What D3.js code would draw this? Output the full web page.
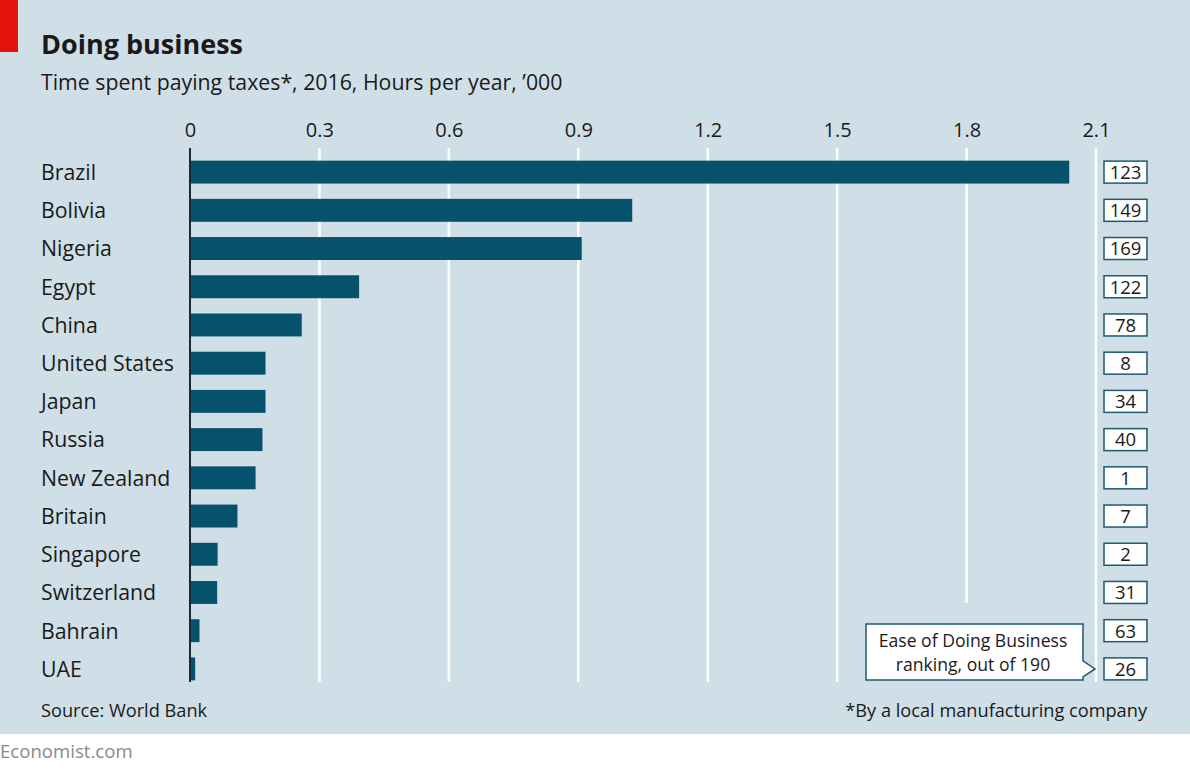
<!DOCTYPE html>
<html><head><meta charset="utf-8">
<script src="https://cdn.jsdelivr.net/npm/d3@7"></script>
<style>body{margin:0;background:#fff;} svg{display:block;}</style>
</head><body>
<script>
const countries = ["Brazil","Bolivia","Nigeria","Egypt","China","United States","Japan","Russia","New Zealand","Britain","Singapore","Switzerland","Bahrain","UAE"];
const hoursThousands = [2.038,1.025,0.908,0.392,0.259,0.175,0.175,0.168,0.152,0.110,0.064,0.063,0.022,0.012];
const ranks = [123,149,169,122,78,8,34,40,1,7,2,31,63,26];
const ticks = [0,0.3,0.6,0.9,1.2,1.5,1.8,2.1];
const tickLabels = ["0","0.3","0.6","0.9","1.2","1.5","1.8","2.1"];

const W=1190,H=772;
const font = "'Open Sans', sans-serif";
const svg = d3.select("body").append("svg").attr("width",W).attr("height",H);
svg.append("rect").attr("width",W).attr("height",734).attr("fill","#d0dfe7");
svg.append("rect").attr("x",0).attr("y",0).attr("width",18).attr("height",52).attr("fill","#e3120b");

svg.append("text").attr("x",41).attr("y",54).text("Doing business")
  .attr("font-family",font).attr("font-weight",700).attr("font-size",27).attr("fill","#1a1a1a");
svg.append("text").attr("x",41).attr("y",90).text("Time spent paying taxes*, 2016, Hours per year, ’000")
  .attr("font-family",font).attr("font-size",21.3).attr("fill","#1a1a1a");

const x = d3.scaleLinear().domain([0,2.1]).range([190,1096]);
const y = d3.scaleBand().domain(countries).range([153,688]).paddingInner(0.4).paddingOuter(0.2);

// grid
const gridG = svg.append("g");
ticks.forEach((t,i)=>{
  if(i===0) return;
  gridG.append("line").attr("x1",x(t)).attr("x2",x(t)).attr("y1",148).attr("y2", t===1.8?603:682)
    .attr("stroke","#ffffff").attr("stroke-width",2.5);
});
const axis = d3.axisTop(x).tickValues(ticks).tickFormat((d,i)=>tickLabels[i]).tickSize(0);
const ag = svg.append("g").attr("transform","translate(0,140)").call(axis);
ag.select(".domain").remove();
ag.selectAll("text").attr("font-family",font).attr("font-size",20).attr("fill","#1a1a1a").attr("dy",0);

// bars
svg.append("g").selectAll("rect").data(countries).join("rect")
  .attr("x",x(0)).attr("y",d=>y(d)).attr("height",y.bandwidth())
  .attr("width",(d,i)=>x(hoursThousands[i])-x(0)).attr("fill","#06516c");
svg.append("line").attr("x1",x(0)).attr("x2",x(0)).attr("y1",148).attr("y2",682)
  .attr("stroke","#1a2a33").attr("stroke-width",2);

// country labels
svg.append("g").selectAll("text").data(countries).join("text")
  .attr("x",41).attr("y",d=>y(d)+y.bandwidth()/2).attr("dy","0.37em").text(d=>d)
  .attr("font-family",font).attr("font-size",21.3).attr("fill","#1a1a1a");

// rank boxes
const rg = svg.append("g").selectAll("g").data(countries).join("g")
  .attr("transform",d=>`translate(1104,${y(d)+y.bandwidth()/2-11})`);
rg.append("rect").attr("width",43).attr("height",22).attr("fill","#fff").attr("stroke","#1c5a70").attr("stroke-width",1.5);
rg.append("text").attr("x",21.5).attr("y",11).attr("dy","0.37em").attr("text-anchor","middle")
  .text((d,i)=>ranks[i]).attr("font-family",font).attr("font-size",18.5).attr("fill","#1a1a1a");

// callout
const cy = y("UAE")+y.bandwidth()/2;
svg.append("path").attr("d",`M866,624 H1083 V${cy-8} L1095,${cy} L1083,${cy+8} V680 H866 Z`)
  .attr("fill","#fff").attr("stroke","#1c5a70").attr("stroke-width",1.5);
svg.append("text").attr("x",973).attr("y",647).attr("text-anchor","middle").text("Ease of Doing Business")
  .attr("font-family",font).attr("font-size",17.6).attr("fill","#1a1a1a");
svg.append("text").attr("x",973).attr("y",671).attr("text-anchor","middle").text("ranking, out of 190")
  .attr("font-family",font).attr("font-size",17.6).attr("fill","#1a1a1a");

// footer
svg.append("text").attr("x",41).attr("y",717).text("Source: World Bank")
  .attr("font-family",font).attr("font-size",18.2).attr("fill","#1a1a1a");
svg.append("text").attr("x",1147).attr("y",717).attr("text-anchor","end").text("*By a local manufacturing company")
  .attr("font-family",font).attr("font-size",18.2).attr("fill","#1a1a1a");
svg.append("text").attr("x",0).attr("y",758).text("Economist.com")
  .attr("font-family",font).attr("font-size",18.6).attr("fill","#8a8a8a");
</script>
</body></html>
